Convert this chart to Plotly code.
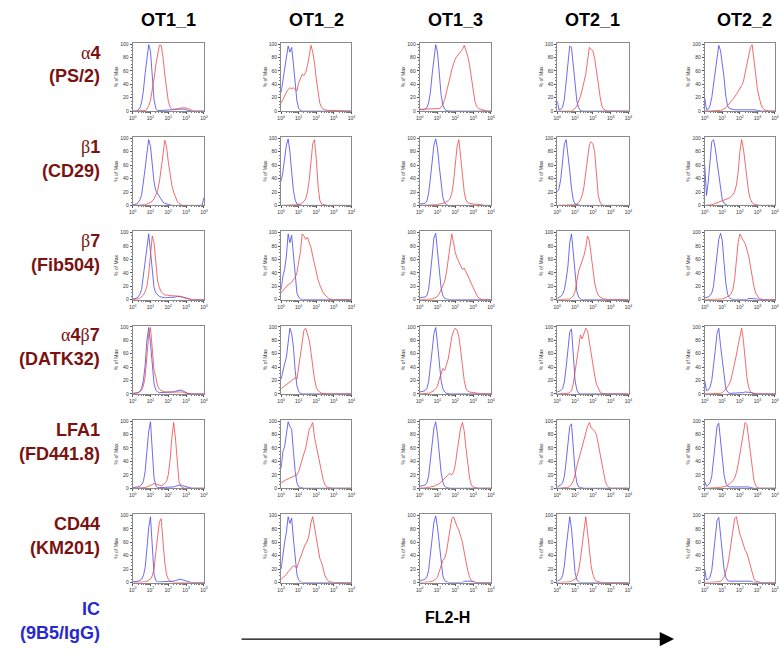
import plotly.graph_objects as go

# ---------------- data ----------------
# FL2-H channel, in decades (10^0 .. 10^4), histogram bins
LOG_FL2 = [0.0, 0.1, 0.2, 0.3, 0.4, 0.5, 0.6, 0.7, 0.8, 0.9,
           1.0, 1.1, 1.2, 1.3, 1.4, 1.5, 1.6, 1.7, 1.8, 1.9,
           2.0, 2.1, 2.2, 2.3, 2.4, 2.5, 2.6, 2.7, 2.8, 2.9,
           3.0, 3.1, 3.2, 3.3, 3.4, 3.5, 3.6, 3.7, 3.8, 3.9, 4.0]

COLUMNS = ["OT1_1", "OT1_2", "OT1_3", "OT2_1", "OT2_2"]
MARKERS = [("α4", "(PS/2)"), ("β1", "(CD29)"), ("β7", "(Fib504)"),
           ("α4β7", "(DATK32)"), ("LFA1", "(FD441.8)"), ("CD44", "(KM201)")]
CONTROL = ("IC", "(9B5/IgG)")
AXIS_LABEL = "FL2-H"
X_TICK_DECADES = [0, 1, 2, 3, 4]
Y_TICKS = [0, 20, 40, 60, 80, 100]

# % of Max, isotype control (blue) and stain (red), one list per column
ALPHA4_IC = [
    [0,0,0,2,4,13,30,56,83,99, 89,50,17,4,1,1,1,1,1,1, 2,2,2,3,3,4,4,4,3,3, 2,1,1,0,0,0,0,0,0,0, 0],
    [28,45,62,80,97,88,95,70,40,15, 4,1,0,0,0,0,0,0,0,0, 0,0,0,0,0,0,0,0,0,0, 0,0,0,0,0,0,0,0,0,0, 0],
    [3,2,2,3,5,12,28,55,82,99, 88,55,25,9,3,1,0,0,0,0, 0,0,0,0,1,1,1,1,1,1, 0,0,0,0,0,0,0,0,0,0, 0],
    [15,2,3,6,18,45,75,97,95,70, 40,15,5,1,0,0,0,0,0,0, 0,0,0,0,0,0,0,0,0,0, 0,0,0,0,0,0,0,0,0,0, 0],
    [20,2,3,8,20,38,62,80,98,90, 72,50,22,8,4,3,2,2,2,2, 2,2,2,2,3,3,3,3,3,2, 1,0,0,0,0,0,0,0,0,0, 0],
]
ALPHA4_STAIN = [
    [0,0,0,1,1,1,1,1,3,8, 16,30,48,69,87,98,98,81,55,31, 15,6,3,2,2,3,4,5,5,5, 5,4,3,1,0,0,0,0,0,0, 0],
    [12,18,24,28,32,35,33,35,32,30, 42,50,55,53,58,68,85,98,88,72, 48,26,12,6,3,2,1,1,1,1, 1,0,0,0,0,0,0,0,0,0, 0],
    [2,3,3,3,3,3,3,3,3,3, 3,4,6,10,17,27,38,50,62,72, 78,82,85,88,92,98,90,82,68,52, 32,15,7,4,3,2,1,1,0,0, 0],
    [0,0,0,0,0,0,0,0,0,2, 4,8,14,22,32,42,55,75,95,92, 90,78,62,42,22,8,3,1,0,0, 0,0,0,0,0,0,0,0,0,0, 0],
    [0,0,0,0,0,0,0,0,0,1, 2,3,5,8,11,14,17,21,25,29, 33,38,44,55,70,82,95,99,80,55, 32,18,10,5,2,1,0,0,0,0, 0],
]
BETA1_IC = [
    [1,1,2,4,8,15,32,55,78,98, 88,58,35,22,18,12,8,5,3,2, 1,0,0,0,0,0,0,0,0,0, 0,0,0,0,0,0,0,0,0,0, 12],
    [36,50,70,90,99,80,50,22,8,2, 1,0,0,0,0,0,0,0,0,0, 0,0,0,0,0,0,0,0,0,0, 0,0,0,0,0,0,0,0,0,0, 0],
    [2,2,2,3,6,18,40,68,90,99, 85,58,30,12,4,1,0,0,0,0, 0,0,0,0,0,0,0,0,0,0, 0,0,0,0,0,0,0,0,0,0, 0],
    [20,25,40,65,92,98,78,52,25,8, 2,1,0,0,0,0,0,0,0,0, 0,0,0,0,0,0,0,0,0,0, 0,0,0,0,0,0,0,0,0,0, 0],
    [60,15,35,70,95,98,85,65,45,20, 8,3,1,0,0,0,0,0,0,0, 0,0,0,0,0,0,0,0,0,0, 0,0,0,0,0,0,0,0,0,0, 0],
]
BETA1_STAIN = [
    [0,0,0,0,0,0,0,1,2,3, 4,6,10,15,22,35,52,75,97,88, 65,45,30,20,12,6,3,1,0,0, 0,0,0,0,0,0,0,0,0,0, 0],
    [0,0,0,0,0,0,0,0,1,1, 2,2,4,6,10,20,38,65,92,98, 70,30,8,2,1,0,0,0,0,0, 0,0,0,0,0,0,0,0,0,0, 0],
    [0,0,0,0,0,0,0,1,1,1, 1,2,2,3,4,5,7,10,18,35, 60,88,98,72,45,20,8,4,3,2, 2,2,2,2,1,1,0,0,0,0, 0],
    [0,0,0,0,0,0,0,0,0,0, 1,2,4,8,15,28,50,75,90,95, 92,80,45,15,5,1,0,0,0,0, 0,0,0,0,0,0,0,0,0,0, 0],
    [0,0,0,0,1,2,3,4,5,6, 6,7,8,9,11,13,16,20,30,48, 80,98,85,62,40,20,9,4,2,1, 0,0,0,0,0,0,0,0,0,0, 0],
]
BETA7_IC = [
    [1,1,2,4,8,15,35,55,80,98, 72,40,18,10,7,5,4,3,3,3, 3,3,3,4,4,5,5,5,4,3, 2,1,1,0,0,0,0,0,0,0, 0],
    [15,35,45,65,98,85,96,65,30,10, 4,1,0,0,0,0,0,0,0,0, 0,0,0,0,0,0,0,0,0,0, 0,0,0,0,0,0,0,0,0,0, 0],
    [3,3,3,4,6,15,38,68,92,99, 72,40,18,6,2,1,0,0,0,0, 0,0,0,0,0,0,0,0,1,1, 1,0,0,0,0,0,0,0,0,0, 0],
    [2,3,5,8,15,30,50,85,98,70, 35,12,4,1,0,0,0,0,0,0, 0,0,0,0,0,0,0,0,0,0, 0,0,0,0,0,0,0,0,0,0, 0],
    [3,3,4,6,10,20,42,70,90,99, 88,55,25,8,3,1,0,0,0,0, 0,0,0,0,0,2,2,2,2,2, 1,0,0,0,0,0,0,0,0,0, 0],
]
BETA7_STAIN = [
    [0,0,1,1,2,4,7,12,20,38, 62,95,85,50,28,18,12,9,7,7, 6,6,6,6,6,6,5,5,4,3, 2,1,1,0,0,0,0,0,0,0, 0],
    [10,14,18,20,22,24,26,30,33,40, 55,72,98,95,90,93,85,78,65,52, 40,30,22,15,10,7,4,2,1,0, 0,0,0,0,0,0,0,0,0,0, 0],
    [0,0,0,0,0,1,1,1,2,3, 5,9,15,20,27,40,58,82,98,85, 70,62,56,50,45,47,42,36,30,24, 18,12,7,3,1,0,0,0,0,0, 0],
    [0,0,0,0,0,0,0,1,3,6, 12,28,43,50,58,66,78,95,88,65, 42,25,14,7,4,2,1,1,0,0, 0,0,0,0,0,0,0,0,0,0, 0],
    [0,0,0,0,0,0,0,0,1,1, 1,2,3,4,6,9,15,30,55,85, 98,92,88,84,75,65,50,32,20,10, 5,2,1,0,0,0,0,0,0,0, 0],
]
A4B7_IC = [
    [1,1,1,2,4,8,20,42,80,99, 75,40,15,6,3,2,2,2,2,2, 2,2,3,3,4,5,6,6,5,3, 2,1,0,0,0,0,0,0,0,0, 0],
    [22,35,45,55,75,98,90,70,35,12, 4,1,0,0,0,0,0,0,0,0, 0,0,0,0,0,0,0,0,0,0, 0,0,0,0,0,0,0,0,0,0, 0],
    [3,3,4,5,8,18,38,65,90,99, 75,42,20,8,3,1,0,0,0,0, 0,0,0,0,0,0,0,0,0,0, 0,0,0,0,0,0,0,0,0,0, 0],
    [3,4,5,8,18,40,65,92,97,55, 20,6,1,0,0,0,0,0,0,0, 0,0,0,0,0,0,0,0,0,0, 0,0,0,0,0,0,0,0,0,0, 0],
    [20,5,6,10,20,40,65,90,98,72, 50,25,8,3,1,1,1,1,1,1, 1,1,2,3,3,3,3,2,1,0, 0,0,0,0,0,0,0,0,0,0, 0],
]
A4B7_STAIN = [
    [0,0,1,2,3,6,12,25,55,88, 99,65,35,25,12,7,5,4,3,3, 3,3,3,3,3,4,4,4,3,2, 1,1,0,0,0,0,0,0,0,0, 0],
    [8,10,12,15,17,18,20,22,24,22, 42,62,80,95,98,90,80,62,40,22, 10,5,3,1,1,0,0,0,0,0, 0,0,0,0,0,0,0,0,0,0, 0],
    [0,0,0,0,0,1,2,3,5,8, 12,22,32,38,35,42,52,68,85,94, 98,95,85,65,40,20,8,4,3,2, 2,2,1,1,0,0,0,0,0,0, 0],
    [0,0,0,0,0,0,1,2,5,15, 35,55,75,88,82,90,98,94,76,60, 42,28,15,8,3,1,0,0,0,0, 0,0,0,0,0,0,0,0,0,0, 0],
    [0,0,0,0,0,0,0,0,0,1, 2,4,7,11,15,22,33,45,58,72, 86,98,80,50,25,10,4,1,0,0, 0,0,0,0,0,0,0,0,0,0, 0],
]
LFA1_IC = [
    [1,1,1,2,3,5,10,25,55,85, 99,50,15,4,1,1,1,1,1,1, 1,1,2,2,3,4,5,5,4,3, 2,1,0,0,0,0,0,0,0,0, 0],
    [30,55,62,85,99,92,88,55,25,8, 2,1,0,0,0,0,0,0,0,0, 0,0,0,0,0,0,0,0,0,0, 0,0,0,0,0,0,0,0,0,0, 0],
    [3,3,4,5,8,18,38,66,90,99, 80,50,24,9,3,1,0,0,0,0, 0,0,0,0,0,0,0,0,0,0, 0,0,0,0,0,0,0,0,0,0, 0],
    [2,3,5,8,18,40,65,92,96,60, 25,8,2,1,0,0,0,0,0,0, 0,0,0,0,0,0,0,0,0,0, 0,0,0,0,0,0,0,0,0,0, 0],
    [10,3,5,8,18,40,68,92,97,70, 45,20,8,3,2,2,2,2,2,2, 3,3,3,3,3,2,1,0,0,0, 0,0,0,0,0,0,0,0,0,0, 0],
]
LFA1_STAIN = [
    [0,0,0,0,0,0,1,1,2,3, 5,6,7,6,5,4,4,5,7,10, 20,42,75,98,75,35,10,3,1,0, 0,0,0,0,0,0,0,0,0,0, 0],
    [8,10,12,13,14,15,16,17,18,20, 25,35,45,52,60,75,88,92,98,76, 62,52,40,25,12,5,2,1,0,0, 0,0,0,0,0,0,0,0,0,0, 0],
    [0,0,0,0,0,1,2,2,3,4, 5,7,9,12,15,18,20,22,20,24, 35,55,75,90,98,85,60,35,15,5, 2,1,0,0,0,0,0,0,0,0, 0],
    [0,0,0,0,0,0,1,3,6,11, 20,33,44,54,62,72,84,92,98,90, 88,85,80,66,50,35,20,10,4,1, 0,0,0,0,0,0,0,0,0,0, 0],
    [0,0,0,0,0,0,0,0,0,1, 2,2,3,4,6,8,11,15,23,35, 50,65,85,98,95,75,50,30,12,4, 1,0,0,0,0,0,0,0,0,0, 0],
]
CD44_IC = [
    [1,1,1,2,3,5,10,22,50,82, 98,45,12,3,1,1,1,1,1,1, 1,1,2,2,3,4,5,5,4,3, 2,1,0,0,0,0,0,0,0,0, 0],
    [20,45,60,75,98,88,96,65,35,12, 4,1,0,0,0,0,0,0,0,0, 0,0,0,0,0,0,0,0,0,0, 0,0,0,0,0,0,0,0,0,0, 0],
    [3,3,4,5,8,18,38,66,90,99, 82,55,28,10,3,1,0,0,0,0, 0,0,0,0,0,2,2,2,2,2, 2,0,0,0,0,0,0,0,0,0, 0],
    [2,3,5,10,25,52,80,98,80,42, 15,4,1,0,0,0,0,0,0,0, 0,0,0,0,0,0,0,0,0,0, 0,0,0,0,0,0,0,0,0,0, 0],
    [20,4,5,8,18,40,68,92,97,72, 48,20,8,3,2,2,2,2,2,2, 2,2,2,3,3,3,2,1,0,0, 0,0,0,0,0,0,0,0,0,0, 0],
]
CD44_STAIN = [
    [0,0,0,0,0,0,0,1,2,3, 5,10,20,45,65,90,95,60,30,12, 5,2,1,0,0,0,0,0,0,0, 0,0,0,0,0,0,0,0,0,0, 0],
    [5,7,10,12,16,20,22,25,24,22, 30,38,45,52,58,62,72,90,98,82, 65,50,36,30,20,10,5,2,1,0, 0,0,0,0,0,0,0,0,0,0, 0],
    [0,0,0,0,0,1,1,2,3,5, 8,15,25,33,36,45,60,80,95,98, 90,83,78,70,60,45,30,18,8,3, 1,0,0,0,0,0,0,0,0,0, 0],
    [0,0,0,0,0,0,0,1,2,3, 5,9,18,35,55,80,98,75,48,25, 12,5,2,1,0,0,0,0,0,0, 0,0,0,0,0,0,0,0,0,0, 0],
    [0,0,0,0,0,0,0,0,1,2, 4,8,15,25,40,60,80,95,98,85, 72,65,56,48,44,35,25,15,6,2, 1,0,0,0,0,0,0,0,0,0, 0],
]

ROWS_IC = [ALPHA4_IC, BETA1_IC, BETA7_IC, A4B7_IC, LFA1_IC, CD44_IC]
ROWS_STAIN = [ALPHA4_STAIN, BETA1_STAIN, BETA7_STAIN, A4B7_STAIN, LFA1_STAIN, CD44_STAIN]

for grp in ROWS_IC + ROWS_STAIN:
    for s in grp:
        assert len(s) == len(LOG_FL2), len(s)

# ---------------- layout ----------------
W, H = 779, 655
COL_PX = [(130, 202), (280, 351), (420, 492), (559, 631), (708, 779)]
ROW_TOP0, ROW_H, ROW_STEP = 41, 69, 95

BLUE = "rgb(70,70,235)"
RED = "rgb(238,70,70)"
DARKRED = "rgb(122,18,18)"
LABEL_BLUE = "rgb(40,40,205)"
FONT = "Liberation Sans, Arial, sans-serif"

minor_x = []
for d in range(4):
    for m in (0.301, 0.477, 0.602, 0.699, 0.778, 0.845, 0.903, 0.954):
        minor_x.append(d + m)


def greek(s):
    out = ""
    for ch in s:
        if ch in "αβ":
            out += "<span style='font-family:Liberation Serif;font-weight:normal'>" + ch + "</span>"
        else:
            out += ch
    return out


fig = go.Figure()
layout = dict(width=W, height=H, margin=dict(l=0, r=0, t=0, b=0),
              paper_bgcolor="white", plot_bgcolor="white", showlegend=False,
              font=dict(family=FONT))
annotations = []

for r in range(6):
    top = ROW_TOP0 + r * ROW_STEP
    bot = top + ROW_H
    for c in range(5):
        k = r * 5 + c + 1
        xn = "x" if k == 1 else f"x{k}"
        yn = "y" if k == 1 else f"y{k}"
        xa = "xaxis" if k == 1 else f"xaxis{k}"
        ya = "yaxis" if k == 1 else f"yaxis{k}"
        l, rr = COL_PX[c]
        layout[xa] = dict(
            domain=[l / W, min(rr / W, 1.0)], anchor=yn, range=[0, 4],
            showline=True, linecolor="#8a8a8a", linewidth=1, mirror=True,
            showgrid=False, zeroline=False,
            tickmode="array", tickvals=X_TICK_DECADES,
            ticktext=[f"10<sup>{d}</sup>" for d in X_TICK_DECADES],
            ticks="outside", ticklen=2, tickwidth=0.6, tickcolor="#555",
            tickfont=dict(size=5, color="#333"),
            minor=dict(tickmode="array", tickvals=minor_x, ticks="outside",
                       ticklen=1, tickwidth=0.5, tickcolor="#777"),
        )
        layout[ya] = dict(
            domain=[1 - bot / H, 1 - top / H], anchor=xn, range=[0, 102],
            showline=True, linecolor="#8a8a8a", linewidth=1, mirror=True,
            showgrid=False, zeroline=False,
            tickmode="array", tickvals=Y_TICKS,
            ticks="outside", ticklen=2, tickwidth=0.6, tickcolor="#555",
            tickfont=dict(size=5, color="#333"),
            minor=dict(dtick=5, ticks="outside", ticklen=1, tickwidth=0.5, tickcolor="#777"),
            title=dict(text="% of Max", font=dict(size=5, color="#333"), standoff=1),
        )
        fig.add_trace(go.Scatter(x=LOG_FL2, y=ROWS_IC[r][c], mode="lines",
                                 line=dict(color=BLUE, width=0.8),
                                 xaxis=xn, yaxis=yn, hoverinfo="skip"))
        fig.add_trace(go.Scatter(x=LOG_FL2, y=ROWS_STAIN[r][c], mode="lines",
                                 line=dict(color=RED, width=0.8),
                                 xaxis=xn, yaxis=yn, hoverinfo="skip"))

    # row labels
    l1, l2 = MARKERS[r]
    annotations.append(dict(text="<b>" + greek(l1) + "</b>", x=99 / W, y=1 - (top + 10) / H,
                            xref="paper", yref="paper", xanchor="right", yanchor="middle",
                            showarrow=False, font=dict(size=18, color=DARKRED, family=FONT)))
    annotations.append(dict(text="<b>" + l2 + "</b>", x=99 / W, y=1 - (top + 34) / H,
                            xref="paper", yref="paper", xanchor="right", yanchor="middle",
                            showarrow=False, font=dict(size=18, color=DARKRED, family=FONT)))

# column titles
for c, name in enumerate(COLUMNS):
    l, rr = COL_PX[c]
    cx = (l + rr) / 2 + (5 if c == 4 else 0)
    annotations.append(dict(text="<b>" + name + "</b>", x=cx / W, y=1 - 18 / H,
                            xref="paper", yref="paper", xanchor="center", yanchor="middle",
                            showarrow=False, font=dict(size=18, color="black", family=FONT)))

# isotype control label
annotations.append(dict(text="<b>" + CONTROL[0] + "</b>", x=99 / W, y=1 - 612 / H,
                        xref="paper", yref="paper", xanchor="right", yanchor="middle",
                        showarrow=False, font=dict(size=18, color=LABEL_BLUE, family=FONT)))
annotations.append(dict(text="<b>" + CONTROL[1] + "</b>", x=99 / W, y=1 - 636 / H,
                        xref="paper", yref="paper", xanchor="right", yanchor="middle",
                        showarrow=False, font=dict(size=18, color=LABEL_BLUE, family=FONT)))

# FL2-H axis label + arrow
annotations.append(dict(text="<b>" + AXIS_LABEL + "</b>", x=448 / W, y=1 - 620 / H,
                        xref="paper", yref="paper", xanchor="center", yanchor="middle",
                        showarrow=False, font=dict(size=16, color="black", family=FONT)))
annotations.append(dict(text="", x=677 / W, y=1 - 642 / H, ax=243 - 677, ay=0,
                        xref="paper", yref="paper", axref="pixel", ayref="pixel",
                        showarrow=True, arrowhead=2, arrowsize=2.2, arrowwidth=1.3,
                        arrowcolor="black"))

layout["annotations"] = annotations
fig.update_layout(**layout)
fig.write_html("out.html")
